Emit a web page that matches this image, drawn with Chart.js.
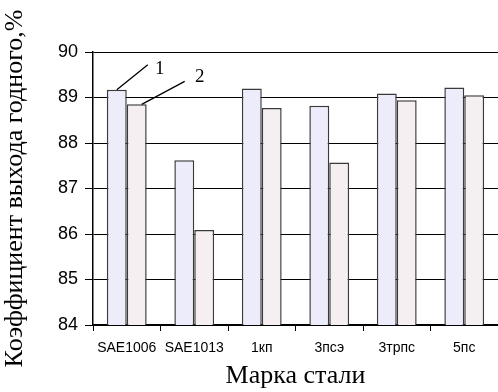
<!DOCTYPE html>
<html lang="ru">
<head>
  <meta charset="UTF-8">
  <title>Коэффициент выхода годного</title>
  <script src="https://cdn.jsdelivr.net/npm/chart.js"></script>
  <style>
    body {
      margin: 0;
      background: #fff;
    }
    #wrap {
      width: 498px;
      height: 392px;
    }
  </style>
</head>
<body>
  <div id="wrap"><canvas id="yieldChart"></canvas></div>

  <script>
    const steelGrades = ['SAE1006', 'SAE1013', '1кп', '3псэ', '3трпс', '5пс'];
    const series1 = [89.17, 87.62, 89.20, 88.82, 89.09, 89.22];
    const series2 = [88.85, 86.09, 88.77, 87.57, 88.94, 89.05];
    const yTicks = [84, 85, 86, 87, 88, 89, 90];

    // leader lines with the "1" and "2" marks over the first group
    const leaderLabels = {
      id: 'leaderLabels',
      afterDatasetsDraw(chart) {
        const ctx = chart.ctx;
        const b1 = chart.getDatasetMeta(0).data[0];
        const b2 = chart.getDatasetMeta(1).data[0];
        ctx.save();
        ctx.strokeStyle = '#000';
        ctx.lineWidth = 1.3;
        ctx.beginPath();
        ctx.moveTo(b1.x, b1.y);
        ctx.lineTo(b1.x + 31, b1.y - 25);
        ctx.moveTo(b2.x + 5, b2.y);
        ctx.lineTo(b2.x + 48, b2.y - 23);
        ctx.stroke();
        ctx.fillStyle = '#000';
        ctx.font = '19px "Liberation Serif", "Times New Roman", serif';
        ctx.textAlign = 'center';
        ctx.textBaseline = 'middle';
        ctx.fillText('1', b1.x + 43, b1.y - 21);
        ctx.fillText('2', b2.x + 63, b2.y - 27);
        ctx.restore();
      }
    };

    new Chart(document.getElementById('yieldChart').getContext('2d'), {
      type: 'bar',
      data: {
        labels: steelGrades,
        datasets: [{
          label: '1',
          data: series1,
          backgroundColor: '#ececfb',
          borderColor: '#3a3a3a',
          borderWidth: 1.5,
          borderSkipped: false
        }, {
          label: '2',
          data: series2,
          backgroundColor: '#f5eff2',
          borderColor: '#3a3a3a',
          borderWidth: 1.5,
          borderSkipped: false
        }]
      },
      options: {
        responsive: true,
        maintainAspectRatio: false,
        animation: false,
        layout: { padding: { top: 52, right: 0, left: 0, bottom: 0 } },
        plugins: {
          legend: { display: false },
          tooltip: { enabled: false }
        },
        datasets: {
          bar: { categoryPercentage: 0.59, barPercentage: 1 }
        },
        scales: {
          x: {
            offset: true,
            grid: {
              offset: true,
              drawOnChartArea: false,
              drawTicks: true,
              tickLength: 6,
              color: '#000'
            },
            border: { color: '#000', width: 1.5 },
            ticks: {
              color: '#000',
              font: { family: 'Arial, "Liberation Sans", sans-serif', size: 14 },
              padding: 9,
              maxRotation: 0
            },
            title: {
              display: true,
              text: 'Марка стали',
              color: '#000',
              font: { family: '"Liberation Serif", "Times New Roman", serif', size: 26 },
              padding: { top: 0, bottom: 0 }
            },
            afterFit(scale) { scale.height = 67; }
          },
          y: {
            min: 84,
            max: 90,
            afterBuildTicks(scale) {
              scale.ticks = yTicks.map(v => ({ value: v }));
            },
            grid: {
              color: '#000',
              lineWidth: 1,
              drawTicks: true,
              tickLength: 8
            },
            border: { color: '#000', width: 1.5 },
            ticks: {
              color: '#000',
              font: { family: 'Arial, "Liberation Sans", sans-serif', size: 18 },
              padding: 7
            },
            title: {
              display: true,
              text: 'Коэффициент выхода годного,%',
              color: '#000',
              font: { family: '"Liberation Serif", "Times New Roman", serif', size: 26 },
              padding: { top: 0, bottom: 0 }
            },
            afterFit(scale) { scale.width = 93; }
          }
        }
      },
      plugins: [leaderLabels]
    });
  </script>
</body>
</html>
